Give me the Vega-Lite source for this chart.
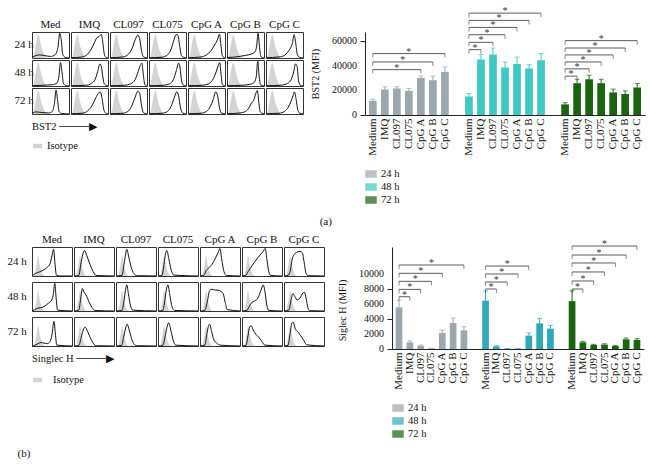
{
"$schema":"https://vega.github.io/schema/vega-lite/v6.json",
"background":"white",
"padding":{"left":7,"top":6,"right":2,"bottom":2},
"title":{"text":"(b)","orient":"bottom","anchor":"start","offset":8,"dx":10},
"config":{
 "font":"Liberation Serif",
 "view":{"stroke":null},
 "axis":{"labelFont":"Liberation Serif","titleFont":"Liberation Serif","labelFontSize":10,"titleFontSize":10,"titleFontWeight":"normal","domainColor":"#222","tickColor":"#222","labelColor":"#111","titleColor":"#111","grid":false},
 "axisY":{"labels":false,"titlePadding":39,"tickSize":5},
 "header":{"labelFont":"Liberation Serif","labelFontSize":11,"labelColor":"#111"},
 "legend":{"labelFont":"Liberation Serif","titleFont":"Liberation Serif","labelFontSize":10.5,"titleFontSize":10.5,"titleFontWeight":"normal","labelColor":"#111","titleColor":"#111"},
 "title":{"font":"Liberation Serif","fontSize":11,"fontWeight":"normal","color":"#111"}
},
"resolve":{"scale":{"color":"independent","fill":"independent"},"legend":{"color":"independent","fill":"independent"}},
"spacing":10,
"vconcat":[
 {
  "spacing":4,
  "resolve":{"scale":{"color":"independent","fill":"independent"},"legend":{"color":"independent","fill":"independent"}},
  "hconcat":[
   {
    "data":{"name":"histA"},
    "bounds":"flush",
    "facet":{
     "column":{"field":"t","type":"ordinal","title":null,"header":{"labelExpr":"['Med','IMQ','CL097','CL075','CpG A','CpG B','CpG C'][datum.value]","labelPadding":2}},
     "row":{"field":"h","type":"ordinal","title":null,"header":{"labelExpr":"datum.value + ' h'","labelAngle":0,"labelPadding":-21}}
    },
    "spacing":{"row":2,"column":2},
    "spec":{
     "width":37,"height":26,
     "view":{"stroke":"#333","strokeWidth":1},
     "layer":[
      {"transform":[{"filter":"isValid(datum.g)"}],
       "mark":{"type":"area","interpolate":"monotone"},
       "encoding":{
        "x":{"field":"x","type":"quantitative","scale":{"domain":[0,100]},"axis":null},
        "y":{"field":"g","type":"quantitative","scale":{"domain":[0,100]},"axis":null},
        "fill":{"datum":"Isotype","type":"nominal","scale":{"range":["#d4d4d4"]},"legend":{"title":"BST2   ────▶","orient":"bottom","direction":"vertical","symbolType":"M-1,-0.5H1V0.5H-1Z","symbolSize":80,"titlePadding":8,"offset":5}}
       }},
      {"transform":[{"filter":"isValid(datum.y)"}],
       "mark":{"type":"line","color":"#111","strokeWidth":1,"interpolate":"monotone"},
       "encoding":{
        "x":{"field":"x","type":"quantitative","axis":null},
        "y":{"field":"y","type":"quantitative","axis":null}
       }}
     ]
    }
   },
   {
    "width":280,"height":83,
    "view":{"stroke":null},
    "layer":[
     {"data":{"name":"barsA"},"mark":{"type":"bar"},
      "encoding":{
       "x":{"field":"k","type":"nominal","title":null,"scale":{"domain":["24 Medium","24 IMQ","24 CL097","24 CL075","24 CpG A","24 CpG B","24 CpG C","s1","48 Medium","48 IMQ","48 CL097","48 CL075","48 CpG A","48 CpG B","48 CpG C","s2","72 Medium","72 IMQ","72 CL097","72 CL075","72 CpG A","72 CpG B","72 CpG C"],"paddingInner":0.36,"paddingOuter":0.33},
            "axis":{"labelAngle":-90,"labelExpr":"slice(datum.value,3)","ticks":false,"labelPadding":3,"labelFontSize":11,"title":null}},
       "y":{"field":"v","type":"quantitative","scale":{"domain":[0,67297],"nice":false},"axis":{"values":[0,20000,40000,60000],"labels":false,"title":"BST2 (MFI)","tickSize":5,"titlePadding":39}},
       "color":{"field":"g","type":"nominal","scale":{"domain":["24 h","48 h","72 h"],"range":["#9ca8b0","#40c8c4","#1a6410"]},"legend":{"title":null,"orient":"bottom","direction":"vertical","symbolType":"M-1,-0.6H1V0.6H-1Z","symbolSize":100,"symbolOpacity":1,"rowPadding":1,"offset":12}}
      }},
     {"data":{"name":"barsA"},"mark":{"type":"rule","strokeWidth":1},
      "encoding":{"x":{"field":"k","type":"nominal","title":null},"y":{"field":"v","type":"quantitative"},"y2":{"field":"e"},"color":{"field":"g","type":"nominal"}}},
     {"data":{"name":"barsA"},"mark":{"type":"tick","orient":"horizontal","size":5,"thickness":1},
      "encoding":{"x":{"field":"k","type":"nominal","title":null},"y":{"field":"e","type":"quantitative"},"color":{"field":"g","type":"nominal"}}},
     {"data":{"name":"ylabA"},"mark":{"type":"text","align":"right","baseline":"middle","fontSize":10,"color":"#111","dx":-12},
      "encoding":{"x":{"field":"k","type":"nominal","title":null,"bandPosition":0},"y":{"field":"v","type":"quantitative"},"text":{"field":"lab"}}},
     {"data":{"name":"brA"},"mark":{"type":"rule","color":"#333","strokeWidth":0.8},
      "encoding":{"x":{"field":"k","type":"nominal","title":null},"x2":{"field":"b"},"y":{"field":"y","type":"quantitative"}}},
     {"data":{"name":"brA"},"mark":{"type":"tick","orient":"vertical","size":4,"thickness":0.8,"color":"#333","yOffset":2},
      "encoding":{"x":{"field":"k","type":"nominal","title":null},"y":{"field":"y","type":"quantitative"}}},
     {"data":{"name":"brA"},"mark":{"type":"tick","orient":"vertical","size":4,"thickness":0.8,"color":"#333","yOffset":2},
      "encoding":{"x":{"field":"b","type":"nominal","title":null},"y":{"field":"y","type":"quantitative"}}},
     {"data":{"name":"brA"},"transform":[{"filter":"isValid(datum.m)"}],"mark":{"type":"text","text":"*","fontSize":10,"color":"#333","baseline":"alphabetic","dy":1},
      "encoding":{"x":{"field":"m","type":"nominal","title":null},"y":{"field":"y","type":"quantitative"}}},
     {"data":{"name":"brA"},"transform":[{"filter":"isValid(datum.n)"}],"mark":{"type":"text","text":"*","fontSize":10,"color":"#333","baseline":"alphabetic","dy":1,"dx":6},
      "encoding":{"x":{"field":"n","type":"nominal","title":null},"y":{"field":"y","type":"quantitative"}}}
    ]
   }
  ]
 },
 {
  "title":{"text":"(a)","orient":"top","anchor":"middle","offset":7},
  "spacing":10,
  "resolve":{"scale":{"color":"independent","fill":"independent"},"legend":{"color":"independent","fill":"independent"}},
  "hconcat":[
   {
    "data":{"name":"histB"},
    "bounds":"flush",
    "facet":{
     "column":{"field":"t","type":"ordinal","title":null,"header":{"labelExpr":"['Med','IMQ','CL097','CL075','CpG A','CpG B','CpG C'][datum.value]","labelPadding":2}},
     "row":{"field":"h","type":"ordinal","title":null,"header":{"labelExpr":"datum.value + ' h'","labelAngle":0,"labelPadding":-14}}
    },
    "spacing":{"row":6,"column":2},
    "spec":{
     "width":40,"height":29,
     "view":{"stroke":"#333","strokeWidth":1},
     "layer":[
      {"transform":[{"filter":"isValid(datum.g)"}],
       "mark":{"type":"area","interpolate":"monotone"},
       "encoding":{
        "x":{"field":"x","type":"quantitative","scale":{"domain":[0,100]},"axis":null},
        "y":{"field":"g","type":"quantitative","scale":{"domain":[0,100]},"axis":null},
        "fill":{"datum":"Isotype","type":"nominal","scale":{"range":["#d4d4d4"]},"legend":{"title":"Singlec H   ────▶","orient":"bottom","direction":"vertical","symbolType":"M-1,-0.5H1V0.5H-1Z","symbolSize":80,"titlePadding":10,"labelOffset":10,"offset":5}}
       }},
      {"transform":[{"filter":"isValid(datum.y)"}],
       "mark":{"type":"line","color":"#111","strokeWidth":1,"interpolate":"monotone"},
       "encoding":{
        "x":{"field":"x","type":"quantitative","axis":null},
        "y":{"field":"y","type":"quantitative","axis":null}
       }}
     ]
    }
   },
   {
    "width":252,"height":102,
    "view":{"stroke":null},
    "layer":[
     {"data":{"name":"barsB"},"mark":{"type":"bar"},
      "encoding":{
       "x":{"field":"k","type":"nominal","title":null,"scale":{"domain":["24 Medium","24 IMQ","24 CL097","24 CL075","24 CpG A","24 CpG B","24 CpG C","s1","48 Medium","48 IMQ","48 CL097","48 CL075","48 CpG A","48 CpG B","48 CpG C","s2","72 Medium","72 IMQ","72 CL097","72 CL075","72 CpG A","72 CpG B","72 CpG C"],"paddingInner":0.38,"paddingOuter":0.34},
            "axis":{"labelAngle":-90,"labelExpr":"slice(datum.value,3)","ticks":false,"labelPadding":3,"labelFontSize":11,"title":null}},
       "y":{"field":"v","type":"quantitative","scale":{"domain":[0,13600],"nice":false},"axis":{"values":[0,2000,4000,6000,8000,10000],"labels":false,"title":"Siglec H (MFI)","titleY":63,"tickSize":5,"titlePadding":39}},
       "color":{"field":"g","type":"nominal","scale":{"domain":["24 h","48 h","72 h"],"range":["#9ca8b0","#2fa9b9","#1a6410"]},"legend":{"title":null,"orient":"bottom","direction":"vertical","symbolType":"M-1,-0.6H1V0.6H-1Z","symbolSize":100,"symbolOpacity":1,"rowPadding":1,"offset":12}}
      }},
     {"data":{"name":"barsB"},"mark":{"type":"rule","strokeWidth":1},
      "encoding":{"x":{"field":"k","type":"nominal","title":null},"y":{"field":"v","type":"quantitative"},"y2":{"field":"e"},"color":{"field":"g","type":"nominal"}}},
     {"data":{"name":"barsB"},"mark":{"type":"tick","orient":"horizontal","size":5,"thickness":1},
      "encoding":{"x":{"field":"k","type":"nominal","title":null},"y":{"field":"e","type":"quantitative"},"color":{"field":"g","type":"nominal"}}},
     {"data":{"name":"ylabB"},"mark":{"type":"text","align":"right","baseline":"middle","fontSize":10,"color":"#111","dx":-11.7},
      "encoding":{"x":{"field":"k","type":"nominal","title":null,"bandPosition":0},"y":{"field":"v","type":"quantitative"},"text":{"field":"lab"}}},
     {"data":{"name":"brB"},"mark":{"type":"rule","color":"#333","strokeWidth":0.8},
      "encoding":{"x":{"field":"k","type":"nominal","title":null},"x2":{"field":"b"},"y":{"field":"y","type":"quantitative"}}},
     {"data":{"name":"brB"},"mark":{"type":"tick","orient":"vertical","size":4,"thickness":0.8,"color":"#333","yOffset":2},
      "encoding":{"x":{"field":"k","type":"nominal","title":null},"y":{"field":"y","type":"quantitative"}}},
     {"data":{"name":"brB"},"mark":{"type":"tick","orient":"vertical","size":4,"thickness":0.8,"color":"#333","yOffset":2},
      "encoding":{"x":{"field":"b","type":"nominal","title":null},"y":{"field":"y","type":"quantitative"}}},
     {"data":{"name":"brB"},"transform":[{"filter":"isValid(datum.m)"}],"mark":{"type":"text","text":"*","fontSize":10,"color":"#333","baseline":"alphabetic","dy":1},
      "encoding":{"x":{"field":"m","type":"nominal","title":null},"y":{"field":"y","type":"quantitative"}}},
     {"data":{"name":"brB"},"transform":[{"filter":"isValid(datum.n)"}],"mark":{"type":"text","text":"*","fontSize":10,"color":"#333","baseline":"alphabetic","dy":1,"dx":5.4},
      "encoding":{"x":{"field":"n","type":"nominal","title":null},"y":{"field":"y","type":"quantitative"}}}
    ]
   }
  ]
 }
],
"datasets":{
 "ylabA":[{"k":"24 Medium","v":0,"lab":"0"},{"k":"24 Medium","v":20000,"lab":"20000"},{"k":"24 Medium","v":40000,"lab":"40000"},{"k":"24 Medium","v":60000,"lab":"60000"}],
 "ylabB":[{"k":"24 Medium","v":0,"lab":"0"},{"k":"24 Medium","v":2000,"lab":"2000"},{"k":"24 Medium","v":4000,"lab":"4000"},{"k":"24 Medium","v":6000,"lab":"6000"},{"k":"24 Medium","v":8000,"lab":"8000"},{"k":"24 Medium","v":10000,"lab":"10000"}],
 "barsA":[
  {"k":"24 Medium","g":"24 h","v":11500,"e":12900},{"k":"24 IMQ","g":"24 h","v":20700,"e":22900},{"k":"24 CL097","g":"24 h","v":21500,"e":22900},{"k":"24 CL075","g":"24 h","v":19600,"e":21500},{"k":"24 CpG A","g":"24 h","v":30100,"e":31800},{"k":"24 CpG B","g":"24 h","v":28200,"e":31500},{"k":"24 CpG C","g":"24 h","v":35000,"e":39000},
  {"k":"48 Medium","g":"48 h","v":15000,"e":17500},{"k":"48 IMQ","g":"48 h","v":45000,"e":49000},{"k":"48 CL097","g":"48 h","v":49000,"e":54300},{"k":"48 CL075","g":"48 h","v":38500,"e":43000},{"k":"48 CpG A","g":"48 h","v":41400,"e":47000},{"k":"48 CpG B","g":"48 h","v":37700,"e":40900},{"k":"48 CpG C","g":"48 h","v":44400,"e":49800},
  {"k":"72 Medium","g":"72 h","v":8600,"e":10000},{"k":"72 IMQ","g":"72 h","v":25800,"e":29000},{"k":"72 CL097","g":"72 h","v":29000,"e":32300},{"k":"72 CL075","g":"72 h","v":25800,"e":29000},{"k":"72 CpG A","g":"72 h","v":18300,"e":21000},{"k":"72 CpG B","g":"72 h","v":17000,"e":19600},{"k":"72 CpG C","g":"72 h","v":22300,"e":25600}
 ],
 "brA":[
  {"k":"24 Medium","b":"24 CpG A","m":"24 CL097","y":36800},{"k":"24 Medium","b":"24 CpG B","n":"24 CL097","y":43000},{"k":"24 Medium","b":"24 CpG C","m":"24 CL075","y":49800},
  {"k":"48 Medium","b":"48 IMQ","n":"48 Medium","y":53000},{"k":"48 Medium","b":"48 CL097","m":"48 IMQ","y":58900},{"k":"48 Medium","b":"48 CL075","n":"48 IMQ","y":65100},{"k":"48 Medium","b":"48 CpG A","m":"48 CL097","y":71000},{"k":"48 Medium","b":"48 CpG B","n":"48 CL097","y":76700},{"k":"48 Medium","b":"48 CpG C","m":"48 CL075","y":82600},
  {"k":"72 Medium","b":"72 IMQ","n":"72 Medium","y":31500},{"k":"72 Medium","b":"72 CL097","m":"72 IMQ","y":37400},{"k":"72 Medium","b":"72 CL075","n":"72 IMQ","y":43000},{"k":"72 Medium","b":"72 CpG A","m":"72 CL097","y":48700},{"k":"72 Medium","b":"72 CpG B","n":"72 CL097","y":54300},{"k":"72 Medium","b":"72 CpG C","m":"72 CL075","y":60300}
 ],
 "barsB":[
  {"k":"24 Medium","g":"24 h","v":5550,"e":6500},{"k":"24 IMQ","g":"24 h","v":890,"e":1100},{"k":"24 CL097","g":"24 h","v":440,"e":530},{"k":"24 CL075","g":"24 h","v":80,"e":100},{"k":"24 CpG A","g":"24 h","v":2130,"e":2530},{"k":"24 CpG B","g":"24 h","v":3460,"e":4130},{"k":"24 CpG C","g":"24 h","v":2490,"e":2970},
  {"k":"48 Medium","g":"48 h","v":6440,"e":7730},{"k":"48 IMQ","g":"48 h","v":350,"e":440},{"k":"48 CL097","g":"48 h","v":40,"e":60},{"k":"48 CL075","g":"48 h","v":40,"e":60},{"k":"48 CpG A","g":"48 h","v":1780,"e":2130},{"k":"48 CpG B","g":"48 h","v":3420,"e":4080},{"k":"48 CpG C","g":"48 h","v":2710,"e":3150},
  {"k":"72 Medium","g":"72 h","v":6390,"e":7770},{"k":"72 IMQ","g":"72 h","v":890,"e":1020},{"k":"72 CL097","g":"72 h","v":530,"e":620},{"k":"72 CL075","g":"72 h","v":580,"e":700},{"k":"72 CpG A","g":"72 h","v":400,"e":490},{"k":"72 CpG B","g":"72 h","v":1290,"e":1470},{"k":"72 CpG C","g":"72 h","v":1200,"e":1380}
 ],
 "brB":[
  {"k":"24 Medium","b":"24 IMQ","n":"24 Medium","y":6970},{"k":"24 Medium","b":"24 CL097","m":"24 IMQ","y":7950},{"k":"24 Medium","b":"24 CL075","n":"24 IMQ","y":9020},{"k":"24 Medium","b":"24 CpG A","m":"24 CL097","y":10090},{"k":"24 Medium","b":"24 CpG C","m":"24 CL075","y":11200},
  {"k":"48 Medium","b":"48 IMQ","n":"48 Medium","y":8000},{"k":"48 Medium","b":"48 CL097","m":"48 IMQ","y":8930},{"k":"48 Medium","b":"48 CL075","n":"48 IMQ","y":10000},{"k":"48 Medium","b":"48 CpG A","m":"48 CL097","y":11060},
  {"k":"72 Medium","b":"72 IMQ","n":"72 Medium","y":8000},{"k":"72 Medium","b":"72 CL097","m":"72 IMQ","y":9070},{"k":"72 Medium","b":"72 CL075","n":"72 IMQ","y":10270},{"k":"72 Medium","b":"72 CpG A","m":"72 CL097","y":11470},{"k":"72 Medium","b":"72 CpG B","n":"72 CL097","y":12530},{"k":"72 Medium","b":"72 CpG C","m":"72 CL075","y":13730}
 ],
 "histA":[
  {"t":0,"h":24,"x":4,"g":0},{"t":0,"h":24,"x":10,"g":50},{"t":0,"h":24,"x":17,"g":90},{"t":0,"h":24,"x":26,"g":40},{"t":0,"h":24,"x":38,"g":0},
  {"t":1,"h":24,"x":4,"g":0},{"t":1,"h":24,"x":10,"g":50},{"t":1,"h":24,"x":17,"g":90},{"t":1,"h":24,"x":26,"g":40},{"t":1,"h":24,"x":38,"g":0},
  {"t":2,"h":24,"x":4,"g":0},{"t":2,"h":24,"x":10,"g":50},{"t":2,"h":24,"x":17,"g":90},{"t":2,"h":24,"x":26,"g":40},{"t":2,"h":24,"x":38,"g":0},
  {"t":3,"h":24,"x":4,"g":0},{"t":3,"h":24,"x":10,"g":50},{"t":3,"h":24,"x":17,"g":90},{"t":3,"h":24,"x":26,"g":40},{"t":3,"h":24,"x":38,"g":0},
  {"t":4,"h":24,"x":4,"g":0},{"t":4,"h":24,"x":10,"g":50},{"t":4,"h":24,"x":17,"g":90},{"t":4,"h":24,"x":26,"g":40},{"t":4,"h":24,"x":38,"g":0},
  {"t":5,"h":24,"x":4,"g":0},{"t":5,"h":24,"x":10,"g":50},{"t":5,"h":24,"x":17,"g":90},{"t":5,"h":24,"x":26,"g":40},{"t":5,"h":24,"x":38,"g":0},
  {"t":6,"h":24,"x":4,"g":0},{"t":6,"h":24,"x":10,"g":50},{"t":6,"h":24,"x":17,"g":90},{"t":6,"h":24,"x":26,"g":40},{"t":6,"h":24,"x":38,"g":0},
  {"t":0,"h":48,"x":4,"g":0},{"t":0,"h":48,"x":10,"g":50},{"t":0,"h":48,"x":17,"g":90},{"t":0,"h":48,"x":26,"g":40},{"t":0,"h":48,"x":38,"g":0},
  {"t":1,"h":48,"x":4,"g":0},{"t":1,"h":48,"x":10,"g":50},{"t":1,"h":48,"x":17,"g":90},{"t":1,"h":48,"x":26,"g":40},{"t":1,"h":48,"x":38,"g":0},
  {"t":2,"h":48,"x":4,"g":0},{"t":2,"h":48,"x":10,"g":50},{"t":2,"h":48,"x":17,"g":90},{"t":2,"h":48,"x":26,"g":40},{"t":2,"h":48,"x":38,"g":0},
  {"t":3,"h":48,"x":4,"g":0},{"t":3,"h":48,"x":10,"g":50},{"t":3,"h":48,"x":17,"g":90},{"t":3,"h":48,"x":26,"g":40},{"t":3,"h":48,"x":38,"g":0},
  {"t":4,"h":48,"x":4,"g":0},{"t":4,"h":48,"x":10,"g":50},{"t":4,"h":48,"x":17,"g":90},{"t":4,"h":48,"x":26,"g":40},{"t":4,"h":48,"x":38,"g":0},
  {"t":5,"h":48,"x":4,"g":0},{"t":5,"h":48,"x":10,"g":50},{"t":5,"h":48,"x":17,"g":90},{"t":5,"h":48,"x":26,"g":40},{"t":5,"h":48,"x":38,"g":0},
  {"t":6,"h":48,"x":4,"g":0},{"t":6,"h":48,"x":10,"g":50},{"t":6,"h":48,"x":17,"g":90},{"t":6,"h":48,"x":26,"g":40},{"t":6,"h":48,"x":38,"g":0},
  {"t":0,"h":72,"x":4,"g":0},{"t":0,"h":72,"x":10,"g":50},{"t":0,"h":72,"x":17,"g":90},{"t":0,"h":72,"x":26,"g":40},{"t":0,"h":72,"x":38,"g":0},
  {"t":1,"h":72,"x":4,"g":0},{"t":1,"h":72,"x":10,"g":50},{"t":1,"h":72,"x":17,"g":90},{"t":1,"h":72,"x":26,"g":40},{"t":1,"h":72,"x":38,"g":0},
  {"t":2,"h":72,"x":4,"g":0},{"t":2,"h":72,"x":10,"g":50},{"t":2,"h":72,"x":17,"g":90},{"t":2,"h":72,"x":26,"g":40},{"t":2,"h":72,"x":38,"g":0},
  {"t":3,"h":72,"x":4,"g":0},{"t":3,"h":72,"x":10,"g":50},{"t":3,"h":72,"x":17,"g":90},{"t":3,"h":72,"x":26,"g":40},{"t":3,"h":72,"x":38,"g":0},
  {"t":4,"h":72,"x":4,"g":0},{"t":4,"h":72,"x":10,"g":50},{"t":4,"h":72,"x":17,"g":90},{"t":4,"h":72,"x":26,"g":40},{"t":4,"h":72,"x":38,"g":0},
  {"t":5,"h":72,"x":4,"g":0},{"t":5,"h":72,"x":10,"g":50},{"t":5,"h":72,"x":17,"g":90},{"t":5,"h":72,"x":26,"g":40},{"t":5,"h":72,"x":38,"g":0},
  {"t":6,"h":72,"x":4,"g":0},{"t":6,"h":72,"x":10,"g":50},{"t":6,"h":72,"x":17,"g":90},{"t":6,"h":72,"x":26,"g":40},{"t":6,"h":72,"x":38,"g":0},
  {"t":0,"h":24,"x":0,"y":2},{"t":0,"h":24,"x":8,"y":8},{"t":0,"h":24,"x":20,"y":12},{"t":0,"h":24,"x":35,"y":9},{"t":0,"h":24,"x":50,"y":6},{"t":0,"h":24,"x":62,"y":12},{"t":0,"h":24,"x":70,"y":40},{"t":0,"h":24,"x":75,"y":95},{"t":0,"h":24,"x":79,"y":70},{"t":0,"h":24,"x":83,"y":15},{"t":0,"h":24,"x":90,"y":2},{"t":0,"h":24,"x":100,"y":0},
  {"t":1,"h":24,"x":0,"y":1},{"t":1,"h":24,"x":30,"y":4},{"t":1,"h":24,"x":45,"y":15},{"t":1,"h":24,"x":55,"y":35},{"t":1,"h":24,"x":63,"y":58},{"t":1,"h":24,"x":70,"y":78},{"t":1,"h":24,"x":75,"y":82},{"t":1,"h":24,"x":82,"y":90},{"t":1,"h":24,"x":86,"y":60},{"t":1,"h":24,"x":90,"y":15},{"t":1,"h":24,"x":95,"y":2},{"t":1,"h":24,"x":100,"y":0},
  {"t":2,"h":24,"x":0,"y":1},{"t":2,"h":24,"x":35,"y":4},{"t":2,"h":24,"x":50,"y":15},{"t":2,"h":24,"x":60,"y":38},{"t":2,"h":24,"x":68,"y":70},{"t":2,"h":24,"x":75,"y":88},{"t":2,"h":24,"x":80,"y":75},{"t":2,"h":24,"x":85,"y":30},{"t":2,"h":24,"x":90,"y":5},{"t":2,"h":24,"x":100,"y":0},
  {"t":3,"h":24,"x":0,"y":1},{"t":3,"h":24,"x":35,"y":3},{"t":3,"h":24,"x":50,"y":12},{"t":3,"h":24,"x":60,"y":35},{"t":3,"h":24,"x":68,"y":72},{"t":3,"h":24,"x":73,"y":90},{"t":3,"h":24,"x":78,"y":88},{"t":3,"h":24,"x":83,"y":45},{"t":3,"h":24,"x":88,"y":8},{"t":3,"h":24,"x":100,"y":0},
  {"t":4,"h":24,"x":0,"y":1},{"t":4,"h":24,"x":35,"y":4},{"t":4,"h":24,"x":50,"y":12},{"t":4,"h":24,"x":62,"y":28},{"t":4,"h":24,"x":72,"y":50},{"t":4,"h":24,"x":80,"y":72},{"t":4,"h":24,"x":85,"y":92},{"t":4,"h":24,"x":89,"y":50},{"t":4,"h":24,"x":93,"y":8},{"t":4,"h":24,"x":100,"y":0},
  {"t":5,"h":24,"x":0,"y":2},{"t":5,"h":24,"x":30,"y":5},{"t":5,"h":24,"x":50,"y":10},{"t":5,"h":24,"x":65,"y":15},{"t":5,"h":24,"x":75,"y":22},{"t":5,"h":24,"x":80,"y":45},{"t":5,"h":24,"x":84,"y":95},{"t":5,"h":24,"x":88,"y":40},{"t":5,"h":24,"x":92,"y":5},{"t":5,"h":24,"x":100,"y":0},
  {"t":6,"h":24,"x":0,"y":1},{"t":6,"h":24,"x":35,"y":4},{"t":6,"h":24,"x":50,"y":10},{"t":6,"h":24,"x":58,"y":22},{"t":6,"h":24,"x":65,"y":35},{"t":6,"h":24,"x":71,"y":55},{"t":6,"h":24,"x":76,"y":90},{"t":6,"h":24,"x":80,"y":60},{"t":6,"h":24,"x":85,"y":12},{"t":6,"h":24,"x":92,"y":2},{"t":6,"h":24,"x":100,"y":0},
  {"t":0,"h":48,"x":0,"y":1},{"t":0,"h":48,"x":30,"y":3},{"t":0,"h":48,"x":55,"y":5},{"t":0,"h":48,"x":68,"y":12},{"t":0,"h":48,"x":73,"y":40},{"t":0,"h":48,"x":77,"y":90},{"t":0,"h":48,"x":81,"y":55},{"t":0,"h":48,"x":85,"y":10},{"t":0,"h":48,"x":92,"y":1},{"t":0,"h":48,"x":100,"y":0},
  {"t":1,"h":48,"x":0,"y":1},{"t":1,"h":48,"x":40,"y":3},{"t":1,"h":48,"x":55,"y":10},{"t":1,"h":48,"x":65,"y":25},{"t":1,"h":48,"x":72,"y":55},{"t":1,"h":48,"x":78,"y":85},{"t":1,"h":48,"x":82,"y":75},{"t":1,"h":48,"x":86,"y":35},{"t":1,"h":48,"x":90,"y":8},{"t":1,"h":48,"x":100,"y":0},
  {"t":2,"h":48,"x":0,"y":1},{"t":2,"h":48,"x":40,"y":3},{"t":2,"h":48,"x":55,"y":8},{"t":2,"h":48,"x":68,"y":25},{"t":2,"h":48,"x":76,"y":55},{"t":2,"h":48,"x":82,"y":80},{"t":2,"h":48,"x":86,"y":88},{"t":2,"h":48,"x":90,"y":45},{"t":2,"h":48,"x":94,"y":6},{"t":2,"h":48,"x":100,"y":0},
  {"t":3,"h":48,"x":0,"y":1},{"t":3,"h":48,"x":40,"y":3},{"t":3,"h":48,"x":55,"y":8},{"t":3,"h":48,"x":66,"y":25},{"t":3,"h":48,"x":74,"y":60},{"t":3,"h":48,"x":80,"y":88},{"t":3,"h":48,"x":84,"y":70},{"t":3,"h":48,"x":88,"y":20},{"t":3,"h":48,"x":93,"y":3},{"t":3,"h":48,"x":100,"y":0},
  {"t":4,"h":48,"x":0,"y":1},{"t":4,"h":48,"x":40,"y":3},{"t":4,"h":48,"x":55,"y":8},{"t":4,"h":48,"x":66,"y":22},{"t":4,"h":48,"x":75,"y":50},{"t":4,"h":48,"x":82,"y":80},{"t":4,"h":48,"x":86,"y":90},{"t":4,"h":48,"x":89,"y":50},{"t":4,"h":48,"x":93,"y":6},{"t":4,"h":48,"x":100,"y":0},
  {"t":5,"h":48,"x":0,"y":1},{"t":5,"h":48,"x":40,"y":3},{"t":5,"h":48,"x":60,"y":6},{"t":5,"h":48,"x":72,"y":12},{"t":5,"h":48,"x":79,"y":35},{"t":5,"h":48,"x":83,"y":95},{"t":5,"h":48,"x":87,"y":35},{"t":5,"h":48,"x":91,"y":4},{"t":5,"h":48,"x":100,"y":0},
  {"t":6,"h":48,"x":0,"y":1},{"t":6,"h":48,"x":40,"y":3},{"t":6,"h":48,"x":55,"y":8},{"t":6,"h":48,"x":66,"y":20},{"t":6,"h":48,"x":74,"y":50},{"t":6,"h":48,"x":80,"y":85},{"t":6,"h":48,"x":84,"y":75},{"t":6,"h":48,"x":88,"y":20},{"t":6,"h":48,"x":93,"y":3},{"t":6,"h":48,"x":100,"y":0},
  {"t":0,"h":72,"x":0,"y":2},{"t":0,"h":72,"x":10,"y":8},{"t":0,"h":72,"x":25,"y":6},{"t":0,"h":72,"x":45,"y":4},{"t":0,"h":72,"x":55,"y":10},{"t":0,"h":72,"x":61,"y":45},{"t":0,"h":72,"x":65,"y":92},{"t":0,"h":72,"x":69,"y":55},{"t":0,"h":72,"x":73,"y":10},{"t":0,"h":72,"x":80,"y":2},{"t":0,"h":72,"x":100,"y":0},
  {"t":1,"h":72,"x":0,"y":1},{"t":1,"h":72,"x":30,"y":3},{"t":1,"h":72,"x":45,"y":12},{"t":1,"h":72,"x":58,"y":35},{"t":1,"h":72,"x":67,"y":62},{"t":1,"h":72,"x":74,"y":80},{"t":1,"h":72,"x":79,"y":85},{"t":1,"h":72,"x":84,"y":60},{"t":1,"h":72,"x":89,"y":15},{"t":1,"h":72,"x":95,"y":2},{"t":1,"h":72,"x":100,"y":0},
  {"t":2,"h":72,"x":0,"y":1},{"t":2,"h":72,"x":35,"y":3},{"t":2,"h":72,"x":50,"y":12},{"t":2,"h":72,"x":60,"y":35},{"t":2,"h":72,"x":68,"y":65},{"t":2,"h":72,"x":75,"y":88},{"t":2,"h":72,"x":80,"y":80},{"t":2,"h":72,"x":85,"y":35},{"t":2,"h":72,"x":90,"y":6},{"t":2,"h":72,"x":100,"y":0},
  {"t":3,"h":72,"x":0,"y":1},{"t":3,"h":72,"x":35,"y":3},{"t":3,"h":72,"x":50,"y":10},{"t":3,"h":72,"x":60,"y":30},{"t":3,"h":72,"x":68,"y":62},{"t":3,"h":72,"x":75,"y":85},{"t":3,"h":72,"x":80,"y":70},{"t":3,"h":72,"x":85,"y":25},{"t":3,"h":72,"x":91,"y":4},{"t":3,"h":72,"x":100,"y":0},
  {"t":4,"h":72,"x":0,"y":1},{"t":4,"h":72,"x":35,"y":3},{"t":4,"h":72,"x":50,"y":10},{"t":4,"h":72,"x":60,"y":28},{"t":4,"h":72,"x":68,"y":55},{"t":4,"h":72,"x":75,"y":85},{"t":4,"h":72,"x":80,"y":70},{"t":4,"h":72,"x":85,"y":25},{"t":4,"h":72,"x":90,"y":4},{"t":4,"h":72,"x":100,"y":0},
  {"t":5,"h":72,"x":0,"y":1},{"t":5,"h":72,"x":35,"y":4},{"t":5,"h":72,"x":50,"y":10},{"t":5,"h":72,"x":60,"y":25},{"t":5,"h":72,"x":66,"y":42},{"t":5,"h":72,"x":72,"y":52},{"t":5,"h":72,"x":78,"y":80},{"t":5,"h":72,"x":82,"y":90},{"t":5,"h":72,"x":86,"y":45},{"t":5,"h":72,"x":90,"y":8},{"t":5,"h":72,"x":100,"y":0},
  {"t":6,"h":72,"x":0,"y":1},{"t":6,"h":72,"x":35,"y":3},{"t":6,"h":72,"x":50,"y":10},{"t":6,"h":72,"x":60,"y":26},{"t":6,"h":72,"x":68,"y":50},{"t":6,"h":72,"x":73,"y":70},{"t":6,"h":72,"x":77,"y":85},{"t":6,"h":72,"x":81,"y":60},{"t":6,"h":72,"x":86,"y":15},{"t":6,"h":72,"x":92,"y":2},{"t":6,"h":72,"x":100,"y":0}
 ],
 "histB":[
  {"t":0,"h":24,"x":6,"g":0},{"t":0,"h":24,"x":11,"g":35},{"t":0,"h":24,"x":15,"g":70},{"t":0,"h":24,"x":20,"g":35},{"t":0,"h":24,"x":26,"g":8},{"t":0,"h":24,"x":32,"g":0},
  {"t":1,"h":24,"x":6,"g":0},{"t":1,"h":24,"x":11,"g":35},{"t":1,"h":24,"x":15,"g":70},{"t":1,"h":24,"x":20,"g":35},{"t":1,"h":24,"x":26,"g":8},{"t":1,"h":24,"x":32,"g":0},
  {"t":2,"h":24,"x":6,"g":0},{"t":2,"h":24,"x":11,"g":35},{"t":2,"h":24,"x":15,"g":70},{"t":2,"h":24,"x":20,"g":35},{"t":2,"h":24,"x":26,"g":8},{"t":2,"h":24,"x":32,"g":0},
  {"t":3,"h":24,"x":6,"g":0},{"t":3,"h":24,"x":11,"g":35},{"t":3,"h":24,"x":15,"g":70},{"t":3,"h":24,"x":20,"g":35},{"t":3,"h":24,"x":26,"g":8},{"t":3,"h":24,"x":32,"g":0},
  {"t":4,"h":24,"x":6,"g":0},{"t":4,"h":24,"x":11,"g":35},{"t":4,"h":24,"x":15,"g":70},{"t":4,"h":24,"x":20,"g":35},{"t":4,"h":24,"x":26,"g":8},{"t":4,"h":24,"x":32,"g":0},
  {"t":5,"h":24,"x":6,"g":0},{"t":5,"h":24,"x":11,"g":35},{"t":5,"h":24,"x":15,"g":70},{"t":5,"h":24,"x":20,"g":35},{"t":5,"h":24,"x":26,"g":8},{"t":5,"h":24,"x":32,"g":0},
  {"t":6,"h":24,"x":6,"g":0},{"t":6,"h":24,"x":11,"g":35},{"t":6,"h":24,"x":15,"g":70},{"t":6,"h":24,"x":20,"g":35},{"t":6,"h":24,"x":26,"g":8},{"t":6,"h":24,"x":32,"g":0},
  {"t":0,"h":48,"x":6,"g":0},{"t":0,"h":48,"x":11,"g":35},{"t":0,"h":48,"x":15,"g":70},{"t":0,"h":48,"x":20,"g":35},{"t":0,"h":48,"x":26,"g":8},{"t":0,"h":48,"x":32,"g":0},
  {"t":1,"h":48,"x":6,"g":0},{"t":1,"h":48,"x":11,"g":35},{"t":1,"h":48,"x":15,"g":70},{"t":1,"h":48,"x":20,"g":35},{"t":1,"h":48,"x":26,"g":8},{"t":1,"h":48,"x":32,"g":0},
  {"t":2,"h":48,"x":6,"g":0},{"t":2,"h":48,"x":11,"g":35},{"t":2,"h":48,"x":15,"g":70},{"t":2,"h":48,"x":20,"g":35},{"t":2,"h":48,"x":26,"g":8},{"t":2,"h":48,"x":32,"g":0},
  {"t":3,"h":48,"x":6,"g":0},{"t":3,"h":48,"x":11,"g":35},{"t":3,"h":48,"x":15,"g":70},{"t":3,"h":48,"x":20,"g":35},{"t":3,"h":48,"x":26,"g":8},{"t":3,"h":48,"x":32,"g":0},
  {"t":4,"h":48,"x":6,"g":0},{"t":4,"h":48,"x":11,"g":35},{"t":4,"h":48,"x":15,"g":70},{"t":4,"h":48,"x":20,"g":35},{"t":4,"h":48,"x":26,"g":8},{"t":4,"h":48,"x":32,"g":0},
  {"t":5,"h":48,"x":6,"g":0},{"t":5,"h":48,"x":11,"g":35},{"t":5,"h":48,"x":15,"g":70},{"t":5,"h":48,"x":20,"g":35},{"t":5,"h":48,"x":26,"g":8},{"t":5,"h":48,"x":32,"g":0},
  {"t":6,"h":48,"x":6,"g":0},{"t":6,"h":48,"x":11,"g":35},{"t":6,"h":48,"x":15,"g":70},{"t":6,"h":48,"x":20,"g":35},{"t":6,"h":48,"x":26,"g":8},{"t":6,"h":48,"x":32,"g":0},
  {"t":0,"h":72,"x":6,"g":0},{"t":0,"h":72,"x":11,"g":35},{"t":0,"h":72,"x":15,"g":70},{"t":0,"h":72,"x":20,"g":35},{"t":0,"h":72,"x":26,"g":8},{"t":0,"h":72,"x":32,"g":0},
  {"t":1,"h":72,"x":6,"g":0},{"t":1,"h":72,"x":11,"g":35},{"t":1,"h":72,"x":15,"g":70},{"t":1,"h":72,"x":20,"g":35},{"t":1,"h":72,"x":26,"g":8},{"t":1,"h":72,"x":32,"g":0},
  {"t":2,"h":72,"x":6,"g":0},{"t":2,"h":72,"x":11,"g":35},{"t":2,"h":72,"x":15,"g":70},{"t":2,"h":72,"x":20,"g":35},{"t":2,"h":72,"x":26,"g":8},{"t":2,"h":72,"x":32,"g":0},
  {"t":3,"h":72,"x":6,"g":0},{"t":3,"h":72,"x":11,"g":35},{"t":3,"h":72,"x":15,"g":70},{"t":3,"h":72,"x":20,"g":35},{"t":3,"h":72,"x":26,"g":8},{"t":3,"h":72,"x":32,"g":0},
  {"t":4,"h":72,"x":6,"g":0},{"t":4,"h":72,"x":11,"g":35},{"t":4,"h":72,"x":15,"g":70},{"t":4,"h":72,"x":20,"g":35},{"t":4,"h":72,"x":26,"g":8},{"t":4,"h":72,"x":32,"g":0},
  {"t":5,"h":72,"x":6,"g":0},{"t":5,"h":72,"x":11,"g":35},{"t":5,"h":72,"x":15,"g":70},{"t":5,"h":72,"x":20,"g":35},{"t":5,"h":72,"x":26,"g":8},{"t":5,"h":72,"x":32,"g":0},
  {"t":6,"h":72,"x":6,"g":0},{"t":6,"h":72,"x":11,"g":35},{"t":6,"h":72,"x":15,"g":70},{"t":6,"h":72,"x":20,"g":35},{"t":6,"h":72,"x":26,"g":8},{"t":6,"h":72,"x":32,"g":0},
  {"t":0,"h":24,"x":0,"y":0},{"t":0,"h":24,"x":8,"y":8},{"t":0,"h":24,"x":18,"y":14},{"t":0,"h":24,"x":28,"y":20},{"t":0,"h":24,"x":38,"y":30},{"t":0,"h":24,"x":45,"y":42},{"t":0,"h":24,"x":50,"y":70},{"t":0,"h":24,"x":54,"y":92},{"t":0,"h":24,"x":57,"y":50},{"t":0,"h":24,"x":61,"y":3},{"t":0,"h":24,"x":70,"y":0},{"t":0,"h":24,"x":100,"y":0},
  {"t":1,"h":24,"x":0,"y":0},{"t":1,"h":24,"x":12,"y":2},{"t":1,"h":24,"x":17,"y":40},{"t":1,"h":24,"x":22,"y":75},{"t":1,"h":24,"x":26,"y":88},{"t":1,"h":24,"x":32,"y":70},{"t":1,"h":24,"x":40,"y":40},{"t":1,"h":24,"x":48,"y":15},{"t":1,"h":24,"x":55,"y":2},{"t":1,"h":24,"x":100,"y":0},
  {"t":2,"h":24,"x":0,"y":0},{"t":2,"h":24,"x":15,"y":2},{"t":2,"h":24,"x":20,"y":40},{"t":2,"h":24,"x":24,"y":75},{"t":2,"h":24,"x":27,"y":92},{"t":2,"h":24,"x":32,"y":65},{"t":2,"h":24,"x":38,"y":30},{"t":2,"h":24,"x":45,"y":8},{"t":2,"h":24,"x":52,"y":1},{"t":2,"h":24,"x":100,"y":0},
  {"t":3,"h":24,"x":0,"y":0},{"t":3,"h":24,"x":10,"y":2},{"t":3,"h":24,"x":15,"y":40},{"t":3,"h":24,"x":19,"y":78},{"t":3,"h":24,"x":22,"y":88},{"t":3,"h":24,"x":27,"y":60},{"t":3,"h":24,"x":33,"y":20},{"t":3,"h":24,"x":40,"y":3},{"t":3,"h":24,"x":100,"y":0},
  {"t":4,"h":24,"x":0,"y":0},{"t":4,"h":24,"x":10,"y":3},{"t":4,"h":24,"x":15,"y":18},{"t":4,"h":24,"x":22,"y":28},{"t":4,"h":24,"x":30,"y":40},{"t":4,"h":24,"x":38,"y":60},{"t":4,"h":24,"x":45,"y":80},{"t":4,"h":24,"x":50,"y":95},{"t":4,"h":24,"x":54,"y":60},{"t":4,"h":24,"x":60,"y":15},{"t":4,"h":24,"x":66,"y":2},{"t":4,"h":24,"x":100,"y":0},
  {"t":5,"h":24,"x":0,"y":0},{"t":5,"h":24,"x":10,"y":3},{"t":5,"h":24,"x":15,"y":15},{"t":5,"h":24,"x":25,"y":35},{"t":5,"h":24,"x":35,"y":55},{"t":5,"h":24,"x":45,"y":72},{"t":5,"h":24,"x":53,"y":85},{"t":5,"h":24,"x":58,"y":95},{"t":5,"h":24,"x":62,"y":60},{"t":5,"h":24,"x":67,"y":15},{"t":5,"h":24,"x":72,"y":2},{"t":5,"h":24,"x":100,"y":0},
  {"t":6,"h":24,"x":0,"y":0},{"t":6,"h":24,"x":10,"y":2},{"t":6,"h":24,"x":16,"y":20},{"t":6,"h":24,"x":20,"y":55},{"t":6,"h":24,"x":26,"y":75},{"t":6,"h":24,"x":32,"y":82},{"t":6,"h":24,"x":40,"y":85},{"t":6,"h":24,"x":46,"y":80},{"t":6,"h":24,"x":50,"y":50},{"t":6,"h":24,"x":55,"y":10},{"t":6,"h":24,"x":60,"y":1},{"t":6,"h":24,"x":100,"y":0},
  {"t":0,"h":48,"x":0,"y":0},{"t":0,"h":48,"x":6,"y":4},{"t":0,"h":48,"x":15,"y":10},{"t":0,"h":48,"x":25,"y":12},{"t":0,"h":48,"x":35,"y":20},{"t":0,"h":48,"x":42,"y":28},{"t":0,"h":48,"x":48,"y":35},{"t":0,"h":48,"x":53,"y":55},{"t":0,"h":48,"x":57,"y":95},{"t":0,"h":48,"x":60,"y":50},{"t":0,"h":48,"x":64,"y":3},{"t":0,"h":48,"x":100,"y":0},
  {"t":1,"h":48,"x":0,"y":0},{"t":1,"h":48,"x":12,"y":3},{"t":1,"h":48,"x":17,"y":45},{"t":1,"h":48,"x":21,"y":78},{"t":1,"h":48,"x":25,"y":65},{"t":1,"h":48,"x":30,"y":55},{"t":1,"h":48,"x":38,"y":30},{"t":1,"h":48,"x":45,"y":12},{"t":1,"h":48,"x":52,"y":2},{"t":1,"h":48,"x":100,"y":0},
  {"t":2,"h":48,"x":0,"y":0},{"t":2,"h":48,"x":15,"y":2},{"t":2,"h":48,"x":20,"y":35},{"t":2,"h":48,"x":24,"y":75},{"t":2,"h":48,"x":27,"y":90},{"t":2,"h":48,"x":31,"y":60},{"t":2,"h":48,"x":36,"y":20},{"t":2,"h":48,"x":42,"y":3},{"t":2,"h":48,"x":100,"y":0},
  {"t":3,"h":48,"x":0,"y":0},{"t":3,"h":48,"x":12,"y":2},{"t":3,"h":48,"x":17,"y":35},{"t":3,"h":48,"x":21,"y":75},{"t":3,"h":48,"x":25,"y":90},{"t":3,"h":48,"x":29,"y":60},{"t":3,"h":48,"x":35,"y":15},{"t":3,"h":48,"x":42,"y":2},{"t":3,"h":48,"x":100,"y":0},
  {"t":4,"h":48,"x":0,"y":0},{"t":4,"h":48,"x":12,"y":2},{"t":4,"h":48,"x":18,"y":30},{"t":4,"h":48,"x":24,"y":70},{"t":4,"h":48,"x":30,"y":75},{"t":4,"h":48,"x":38,"y":72},{"t":4,"h":48,"x":45,"y":72},{"t":4,"h":48,"x":52,"y":68},{"t":4,"h":48,"x":58,"y":60},{"t":4,"h":48,"x":63,"y":30},{"t":4,"h":48,"x":68,"y":5},{"t":4,"h":48,"x":100,"y":0},
  {"t":5,"h":48,"x":0,"y":0},{"t":5,"h":48,"x":12,"y":2},{"t":5,"h":48,"x":18,"y":15},{"t":5,"h":48,"x":25,"y":30},{"t":5,"h":48,"x":32,"y":35},{"t":5,"h":48,"x":40,"y":45},{"t":5,"h":48,"x":47,"y":70},{"t":5,"h":48,"x":53,"y":90},{"t":5,"h":48,"x":57,"y":70},{"t":5,"h":48,"x":62,"y":20},{"t":5,"h":48,"x":67,"y":2},{"t":5,"h":48,"x":100,"y":0},
  {"t":6,"h":48,"x":0,"y":0},{"t":6,"h":48,"x":12,"y":3},{"t":6,"h":48,"x":18,"y":40},{"t":6,"h":48,"x":22,"y":60},{"t":6,"h":48,"x":27,"y":50},{"t":6,"h":48,"x":33,"y":38},{"t":6,"h":48,"x":40,"y":45},{"t":6,"h":48,"x":47,"y":62},{"t":6,"h":48,"x":51,"y":65},{"t":6,"h":48,"x":55,"y":45},{"t":6,"h":48,"x":60,"y":10},{"t":6,"h":48,"x":65,"y":1},{"t":6,"h":48,"x":100,"y":0},
  {"t":0,"h":72,"x":0,"y":0},{"t":0,"h":72,"x":8,"y":3},{"t":0,"h":72,"x":15,"y":8},{"t":0,"h":72,"x":22,"y":12},{"t":0,"h":72,"x":30,"y":10},{"t":0,"h":72,"x":38,"y":8},{"t":0,"h":72,"x":45,"y":15},{"t":0,"h":72,"x":50,"y":40},{"t":0,"h":72,"x":55,"y":85},{"t":0,"h":72,"x":58,"y":50},{"t":0,"h":72,"x":62,"y":3},{"t":0,"h":72,"x":100,"y":0},
  {"t":1,"h":72,"x":0,"y":0},{"t":1,"h":72,"x":12,"y":2},{"t":1,"h":72,"x":18,"y":30},{"t":1,"h":72,"x":23,"y":55},{"t":1,"h":72,"x":28,"y":65},{"t":1,"h":72,"x":34,"y":50},{"t":1,"h":72,"x":42,"y":25},{"t":1,"h":72,"x":50,"y":6},{"t":1,"h":72,"x":56,"y":1},{"t":1,"h":72,"x":100,"y":0},
  {"t":2,"h":72,"x":0,"y":0},{"t":2,"h":72,"x":14,"y":2},{"t":2,"h":72,"x":19,"y":30},{"t":2,"h":72,"x":24,"y":62},{"t":2,"h":72,"x":28,"y":75},{"t":2,"h":72,"x":33,"y":55},{"t":2,"h":72,"x":39,"y":25},{"t":2,"h":72,"x":46,"y":5},{"t":2,"h":72,"x":52,"y":1},{"t":2,"h":72,"x":100,"y":0},
  {"t":3,"h":72,"x":0,"y":0},{"t":3,"h":72,"x":12,"y":2},{"t":3,"h":72,"x":18,"y":35},{"t":3,"h":72,"x":23,"y":68},{"t":3,"h":72,"x":27,"y":80},{"t":3,"h":72,"x":32,"y":55},{"t":3,"h":72,"x":38,"y":20},{"t":3,"h":72,"x":44,"y":3},{"t":3,"h":72,"x":100,"y":0},
  {"t":4,"h":72,"x":0,"y":0},{"t":4,"h":72,"x":12,"y":3},{"t":4,"h":72,"x":17,"y":40},{"t":4,"h":72,"x":21,"y":68},{"t":4,"h":72,"x":24,"y":75},{"t":4,"h":72,"x":29,"y":50},{"t":4,"h":72,"x":35,"y":20},{"t":4,"h":72,"x":42,"y":10},{"t":4,"h":72,"x":50,"y":3},{"t":4,"h":72,"x":100,"y":0},
  {"t":5,"h":72,"x":0,"y":0},{"t":5,"h":72,"x":10,"y":2},{"t":5,"h":72,"x":15,"y":35},{"t":5,"h":72,"x":19,"y":65},{"t":5,"h":72,"x":23,"y":70},{"t":5,"h":72,"x":28,"y":55},{"t":5,"h":72,"x":35,"y":40},{"t":5,"h":72,"x":42,"y":30},{"t":5,"h":72,"x":50,"y":15},{"t":5,"h":72,"x":57,"y":3},{"t":5,"h":72,"x":100,"y":0},
  {"t":6,"h":72,"x":0,"y":0},{"t":6,"h":72,"x":10,"y":2},{"t":6,"h":72,"x":15,"y":40},{"t":6,"h":72,"x":20,"y":80},{"t":6,"h":72,"x":23,"y":82},{"t":6,"h":72,"x":28,"y":60},{"t":6,"h":72,"x":35,"y":48},{"t":6,"h":72,"x":42,"y":35},{"t":6,"h":72,"x":50,"y":18},{"t":6,"h":72,"x":57,"y":4},{"t":6,"h":72,"x":100,"y":0}
 ]
}
}
